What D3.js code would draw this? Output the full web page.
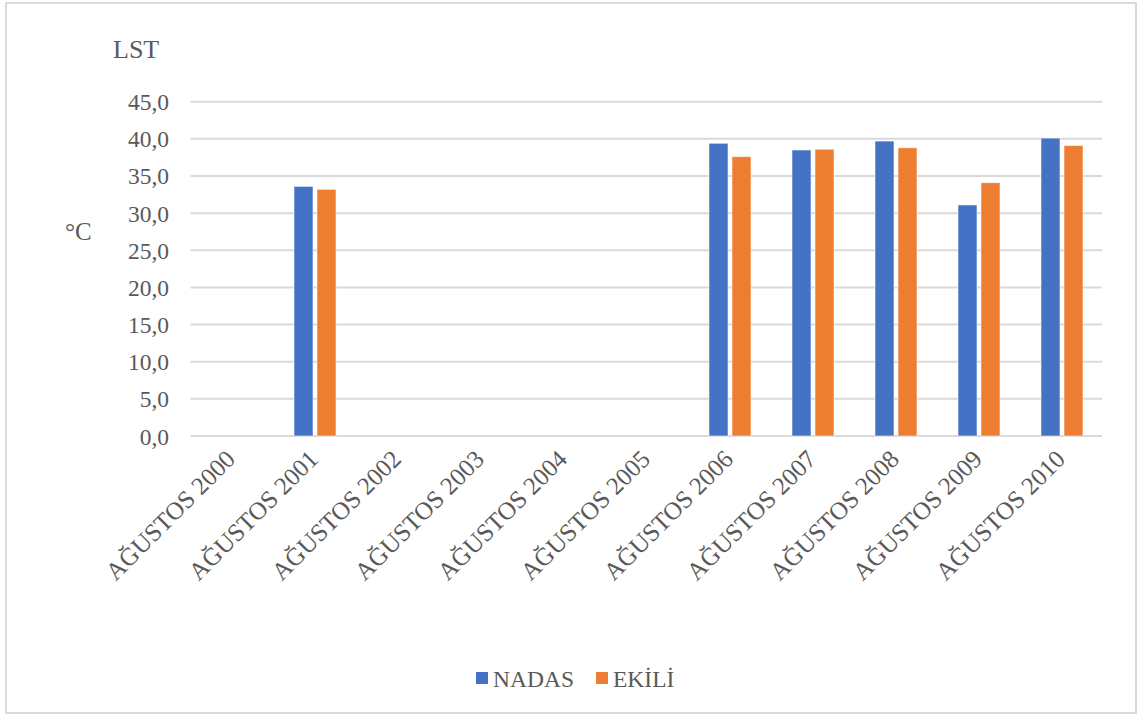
<!DOCTYPE html>
<html>
<head>
<meta charset="utf-8">
<script src="https://cdn.jsdelivr.net/npm/d3@7"></script>
<style>
  html, body { margin: 0; padding: 0; background: #ffffff; }
  svg { display: block; }
</style>
</head>
<body>
<svg id="chart" width="1146" height="715"></svg>
<script>
// August land surface temperature (°C) for fallow (NADAS) and cultivated (EKİLİ) fields
const categories = ["AĞUSTOS 2000", "AĞUSTOS 2001", "AĞUSTOS 2002", "AĞUSTOS 2003",
  "AĞUSTOS 2004", "AĞUSTOS 2005", "AĞUSTOS 2006", "AĞUSTOS 2007",
  "AĞUSTOS 2008", "AĞUSTOS 2009", "AĞUSTOS 2010"];
const seriesNames = ["NADAS", "EKİLİ"];
const nadas = [null, 33.6, null, null, null, null, 39.4, 38.5, 39.7, 31.1, 40.1];
const ekili = [null, 33.2, null, null, null, null, 37.6, 38.6, 38.8, 34.1, 39.1];
const yTicks = [0, 5, 10, 15, 20, 25, 30, 35, 40, 45];
const colors = ["#4472C4", "#ED7D31"];

const FONT = "'Liberation Serif'";
const TEXT_COLOR = "#595959";

const svg = d3.select("#chart");

// outer chart frame
svg.append("rect")
  .attr("x", 6).attr("y", 3).attr("width", 1130).attr("height", 710)
  .attr("fill", "#ffffff").attr("stroke", "#d9d9d9").attr("stroke-width", 2);

const x = d3.scaleBand().domain(categories).range([190.5, 1103.5]).padding(0);
const xs = d3.scaleBand().domain(seriesNames).range([-21, 21]).paddingInner(0.174);
const y = d3.scaleLinear().domain([0, 45]).range([436, 101.7]);

const locale = d3.formatLocale({ decimal: ",", thousands: ".", grouping: [3], currency: ["", "₺"] });
const fmt = locale.format(".1f");

function label(sel, size) {
  return sel.style("font-family", FONT).style("font-size", size + "px").style("fill", TEXT_COLOR);
}

// horizontal gridlines
svg.append("g")
  .selectAll("line")
  .data(yTicks)
  .join("line")
  .attr("x1", x.range()[0]).attr("x2", 1102)
  .attr("y1", d => y(d)).attr("y2", d => y(d))
  .attr("stroke", "#d9d9d9").attr("stroke-width", 2);

// y tick labels
label(svg.append("g")
  .selectAll("text")
  .data(yTicks)
  .join("text")
  .attr("x", 169).attr("y", d => y(d))
  .attr("dy", 8.5)
  .attr("text-anchor", "end"), 23.5)
  .text(d => fmt(d));

// bars
const rows = categories.map((c, i) => ({ cat: c, values: [nadas[i], ekili[i]] }));
const groups = svg.append("g")
  .selectAll("g")
  .data(rows)
  .join("g")
  .attr("transform", d => `translate(${x(d.cat) + x.bandwidth() / 2},0)`);

groups.selectAll("rect")
  .data(d => d.values.map((v, k) => ({ name: seriesNames[k], v, k })).filter(e => e.v != null))
  .join("rect")
  .attr("x", e => xs(e.name))
  .attr("width", xs.bandwidth())
  .attr("y", e => y(e.v))
  .attr("height", e => y(0) - y(e.v))
  .attr("fill", e => colors[e.k])
  .attr("stroke", "#ffffff").attr("stroke-opacity", 0.55).attr("stroke-width", 1);

// rotated category labels
label(svg.append("g")
  .selectAll("text")
  .data(categories)
  .join("text")
  .attr("transform", d => `translate(${x(d) + x.bandwidth() / 2 - 7},449) rotate(-45)`)
  .attr("dy", "0.66em")
  .attr("text-anchor", "end"), 25)
  .text(d => d);

// axis titles
label(svg.append("text").attr("x", 113).attr("y", 58), 26).text("LST");
label(svg.append("text").attr("x", 65).attr("y", 240), 25).text("°C");

// legend
const legendX = [476, 596];
const legend = svg.append("g")
  .selectAll("g")
  .data(seriesNames)
  .join("g")
  .attr("transform", (d, i) => `translate(${legendX[i]},672)`);
legend.append("rect").attr("width", 12).attr("height", 12).attr("fill", (d, i) => colors[i]);
label(legend.append("text").attr("x", 17).attr("y", 14.5), 23.5).text(d => d);
</script>
</body>
</html>
